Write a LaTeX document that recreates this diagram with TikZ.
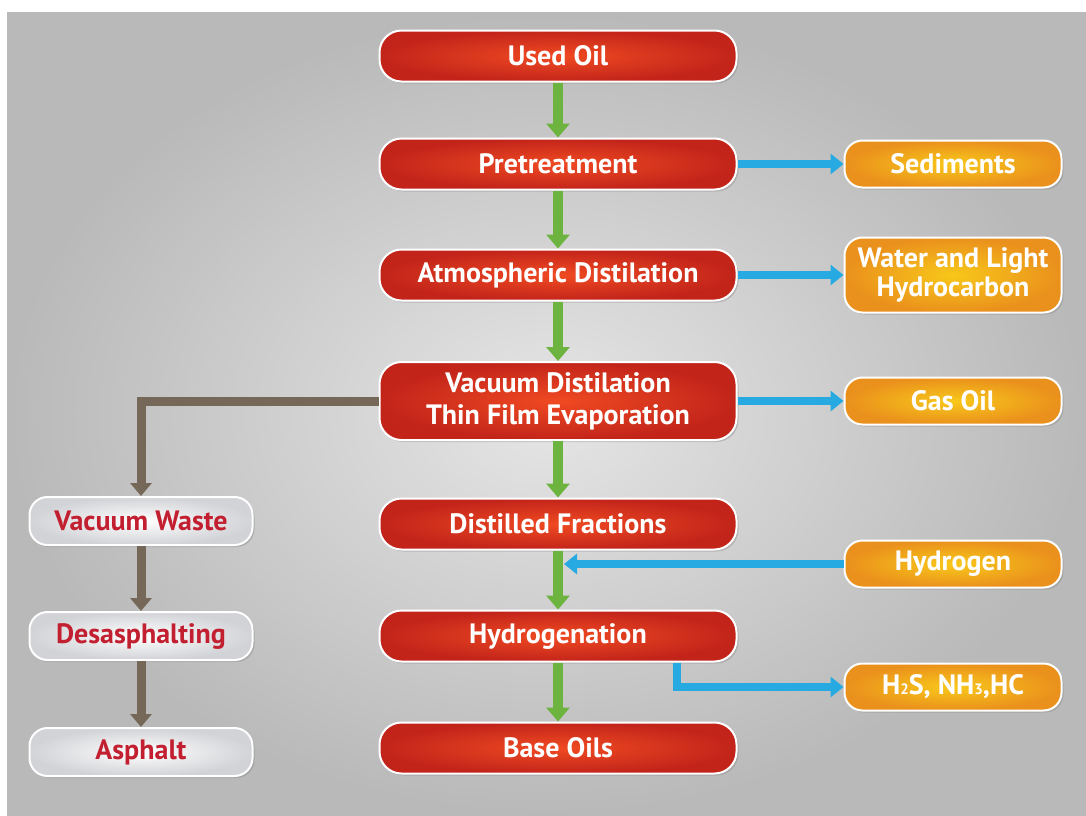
\documentclass[tikz,border=0pt]{standalone}
\usepackage{fontspec}
\setmainfont{PT Sans}
\usetikzlibrary{arrows.meta,shadows,positioning}
\definecolor{boxred}{HTML}{F04A22}
\definecolor{boxreddark}{HTML}{C2241A}
\definecolor{boxgold}{HTML}{F8C81A}
\definecolor{boxorange}{HTML}{EA901C}
\definecolor{boxgrey}{HTML}{D2D3D7}
\definecolor{textred}{HTML}{C21F30}
\definecolor{flowgreen}{HTML}{6CB33F}
\definecolor{flowblue}{HTML}{27AAE1}
\definecolor{flowbrown}{HTML}{766858}
\newcommand{\lowsub}[1]{{\fontsize{15}{15}\selectfont #1}}
\tikzset{
    stage-box/.style = {draw=white, line width=2pt, rectangle, rounded corners=22pt,
        drop shadow={shadow xshift=2pt, shadow yshift=-2pt, opacity=0.35},
        font=\fontsize{28}{32}\selectfont\bfseries, align=center},
    main-box/.style = {stage-box, inner color=boxred, outer color=boxreddark, text=white,
        minimum width=357pt, minimum height=51pt},
    side-box/.style = {stage-box, inner color=boxgold, outer color=boxorange, text=white,
        minimum width=217pt, minimum height=47pt, rounded corners=18pt},
    waste-box/.style = {stage-box, inner color=white, outer color=boxgrey, text=textred,
        minimum width=223pt, minimum height=48pt, rounded corners=18pt},
    green-flow/.style = {draw=flowgreen, line width=10pt, -{Triangle[width=23pt,length=14pt]}},
    blue-flow/.style = {draw=flowblue, line width=8pt, -{Triangle[width=20pt,length=13pt]}},
    brown-flow/.style = {draw=flowbrown, line width=9pt, -{Triangle[width=21pt,length=13pt]}},
}
\begin{document}
\begin{tikzpicture}[x=1pt,y=-1pt]
\useasboundingbox (0,0) rectangle (1086,815);
\shade[inner color=gray!20, outer color=gray!55] (7,12) rectangle (1086,815);
% main line
\node [main-box] (used) at (558,56) {Used Oil};
\node [main-box] (pretreat) at (558,164) {Pretreatment};
\node [main-box] (atmos) at (558,275) {Atmospheric Distilation};
\node [main-box, minimum height=78pt] (vacuum) at (558,401) {Vacuum Distilation\\Thin Film Evaporation};
\node [main-box] (distilled) at (558,524) {Distilled Fractions};
\node [main-box] (hydrogenation) at (558,636) {Hydrogenation};
\node [main-box] (base) at (558,748) {Base Oils};
% side products
\node [side-box] (sediments) at (953,164) {Sediments};
\node [side-box, minimum height=75pt, font=\fontsize{28}{29}\selectfont\bfseries] (water) at (953,275) {Water and Light\\Hydrocarbon};
\node [side-box] (gasoil) at (953,401) {Gas Oil};
\node [side-box] (hydrogen) at (953,564) {Hydrogen};
\node [side-box] (gases) at (953,687) {H\lowsub{2}S, NH\lowsub{3},HC};
% residue line
\node [waste-box] (waste) at (141,521) {Vacuum Waste};
\node [waste-box] (desasph) at (141,636) {Desasphalting};
\node [waste-box] (asphalt) at (141,752) {Asphalt};
% connectors
\foreach \from/\to in {used/pretreat, pretreat/atmos, atmos/vacuum, vacuum/distilled, distilled/hydrogenation, hydrogenation/base}
    \draw [green-flow] (\from.south) -- (\to.north);
\foreach \from/\to in {pretreat/sediments, atmos/water, vacuum/gasoil}
    \draw [blue-flow] (\from.east) -- (\to.west);
\coordinate [xshift=6pt] (hjoin) at (distilled.south);
\draw [blue-flow] (hydrogen.west) -- (hydrogen.west -| hjoin);
\coordinate [xshift=119pt] (hout) at (hydrogenation.south);
\draw [blue-flow] (hout) |- (gases.west);
\draw [brown-flow] (vacuum.west) -| (waste.north);
\draw [brown-flow] (waste.south) -- (desasph.north);
\draw [brown-flow] (desasph.south) -- (asphalt.north);
\end{tikzpicture}
\end{document}
